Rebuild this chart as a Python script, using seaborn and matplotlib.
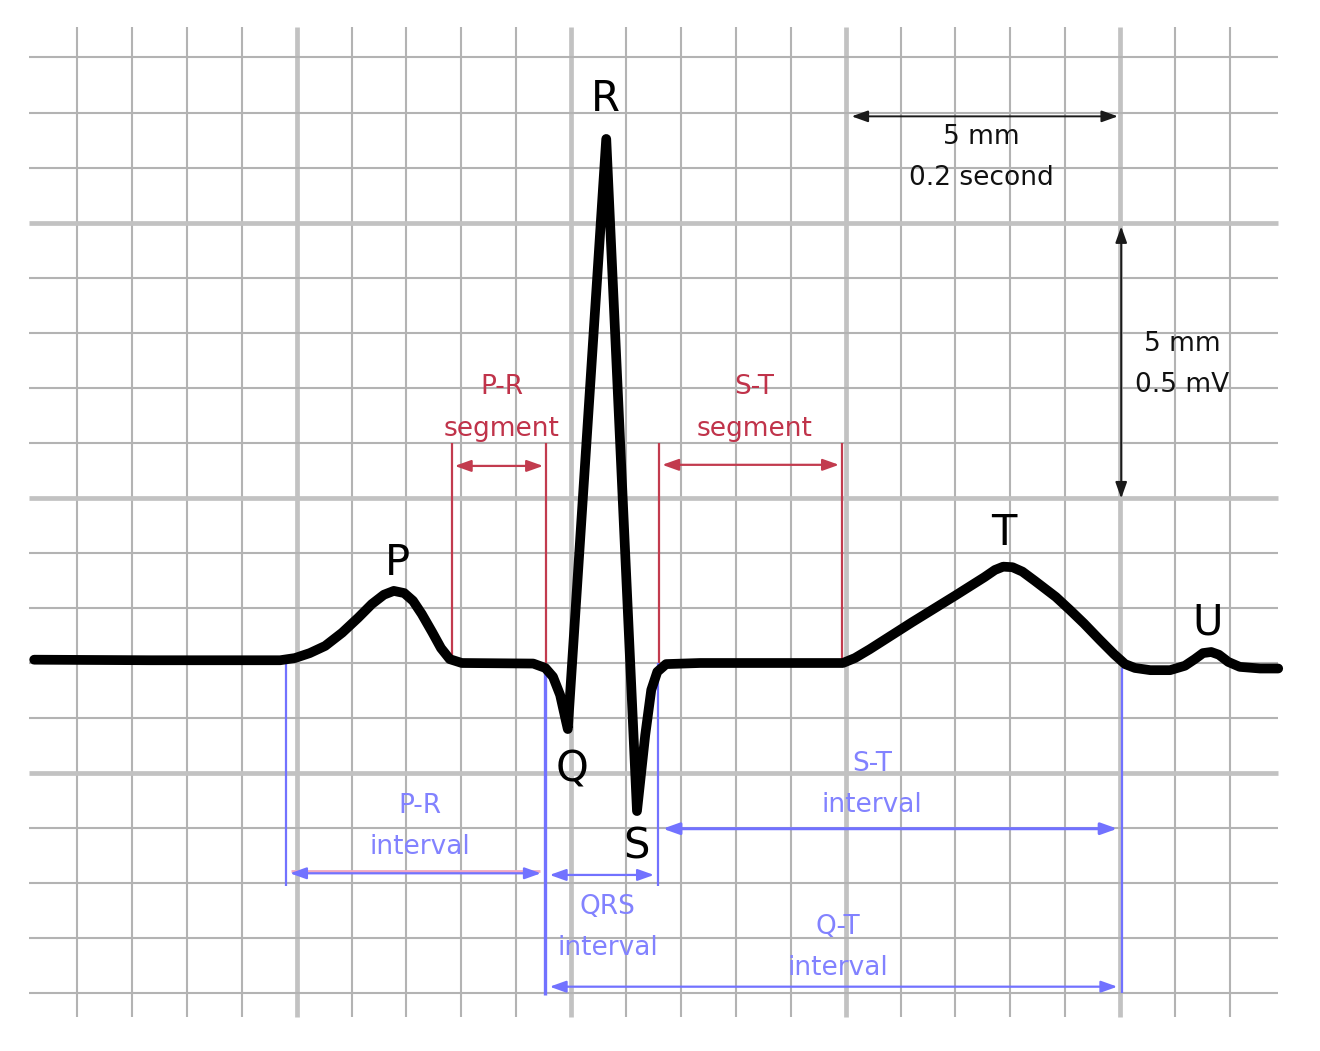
import numpy as np
import matplotlib
matplotlib.use("Agg")
import matplotlib.pyplot as plt
import seaborn as sns

# ECG trace, in small grid boxes (1 box = 1 mm = 0.04 s horizontally, 0.1 mV vertically)
trace_x = [-0.78, 1.33, 3.70, 3.97, 4.24, 4.52, 4.83, 5.12, 5.37, 5.59, 5.77, 5.96,
           6.12, 6.28, 6.47, 6.63, 6.79, 7.01, 8.31, 8.53, 8.67, 8.80, 8.91, 8.94,
           9.64, 10.20, 10.35, 10.46, 10.57, 10.73, 11.35, 13.95,
           14.17, 14.44, 15.21, 15.99, 16.53, 16.72, 16.87, 17.04,
           17.22, 17.45, 17.83, 18.09, 18.34, 18.63, 18.89, 19.09, 19.27, 19.55,
           19.91, 20.18, 20.36, 20.51, 20.66, 20.80, 20.97, 21.18, 21.55, 21.88]
trace_y = [0.06, 0.05, 0.05, 0.09, 0.18, 0.31, 0.55, 0.82, 1.07, 1.24, 1.31, 1.27,
           1.13, 0.89, 0.56, 0.27, 0.07, 0.00, -0.01, -0.09, -0.25, -0.58, -1.07, -1.20,
           9.52, -2.69, -1.31, -0.49, -0.16, -0.02, 0.00, 0.00,
           0.09, 0.25, 0.74, 1.22, 1.56, 1.69, 1.75, 1.74,
           1.66, 1.49, 1.20, 0.96, 0.72, 0.42, 0.16, -0.02, -0.09, -0.13,
           -0.13, -0.05, 0.07, 0.18, 0.20, 0.15, 0.02, -0.07, -0.10, -0.10]

# wave names and where they sit
wave_names = ["P", "Q", "R", "S", "T", "U"]
wave_x = [5.83, 9.01, 9.62, 10.19, 16.89, 20.59]
wave_y = [1.60, -2.16, 10.02, -3.56, 2.14, 0.51]

# segments (red): start, end, bracket top, arrow level, label
seg_labels = ["P-R\nsegment", "S-T\nsegment"]
seg_start = [6.83, 10.61]
seg_end = [8.54, 13.93]
seg_top = [4.0, 4.0]
seg_arrow_y = [3.58, 3.60]
seg_label_x = [7.74, 12.34]
seg_label_y = [4.12, 4.12]

# intervals (blue)
int_labels = ["P-R\ninterval", "QRS\ninterval", "S-T\ninterval", "Q-T\ninterval"]
int_start = [3.80, 8.53, 10.59, 8.53]
int_end = [8.53, 10.59, 19.03, 19.03]
int_arrow_y = [-3.82, -3.85, -3.01, -5.88]
int_label_x = [6.24, 9.67, 14.48, 13.86]
int_label_y = [-3.47, -5.30, -2.70, -5.66]

# blue drop lines: x, top, bottom
drop_x = [3.80, 8.53, 10.59, 19.03]
drop_top = [0.0, -0.04, 0.0, -0.09]
drop_bottom = [-4.05, -6.03, -4.05, -5.99]

# grid
grid_x = np.arange(0, 22)
grid_y = np.arange(-6, 12)
major_x = [4, 9, 14, 19]
major_y = [-2, 3, 8]

sns.set_theme(style="white")
plt.rcParams["font.family"] = ["DejaVu Sans"]

fig = plt.figure(figsize=(13.2, 10.51), dpi=100)
ax = fig.add_axes([0, 0, 1, 1])
ax.set_xlim(-77 / 54.9, (1320 - 77) / 54.9)
ax.set_ylim((663 - 1051) / 55.05, 663 / 55.05)
ax.axis("off")

minor_c = "#b3b3b3"
major_c = "#c2c2c2"
for gx in grid_x:
    major = gx in major_x
    ax.vlines(gx, -6.43, 11.55, color=major_c if major else minor_c,
              lw=3.4 if major else 1.5, zorder=1)
for gy in grid_y:
    major = gy in major_y
    ax.hlines(gy, -0.87, 21.88, color=major_c if major else minor_c,
              lw=3.4 if major else 1.5, zorder=1)

red = "#c23b4e"
red_txt = "#c0334a"
blue = "#7272ff"
blue_txt = "#8282ff"
fs = 19


def arrow(x0, x1, y0, y1, color, lw=1.6, scale=14):
    ax.annotate("", xy=(x1, y1), xytext=(x0, y0),
                arrowprops=dict(arrowstyle="<|-|>,head_length=0.7,head_width=0.25",
                                color=color, lw=lw, shrinkA=0, shrinkB=0,
                                mutation_scale=scale), zorder=3)


# red segments
for lab, s, e, top, ay, lx, ly in zip(seg_labels, seg_start, seg_end, seg_top,
                                      seg_arrow_y, seg_label_x, seg_label_y):
    ax.vlines([s, e], 0, top, color=red, lw=1.6, zorder=2)
    arrow(s + 0.05, e - 0.05, ay, ay, red)
    first, second = lab.split("\n")
    ax.text(lx, ly + 0.76, first, color=red_txt, fontsize=fs, ha="center",
            va="baseline", zorder=4)
    ax.text(lx, ly, second, color=red_txt, fontsize=fs, ha="center",
            va="baseline", zorder=4)

# blue drop lines
for dx, dt, db in zip(drop_x, drop_top, drop_bottom):
    ax.vlines(dx, db, dt, color=blue, lw=2.4 if dx == 8.53 else 1.6, zorder=2)

# blue intervals
for i, (lab, s, e, ay, lx, ly) in enumerate(zip(int_labels, int_start, int_end,
                                                 int_arrow_y, int_label_x, int_label_y)):
    if i == 0:
        ax.hlines(ay + 0.05, s + 0.1, e - 0.1, color="#f0a8c0", lw=2.0, zorder=2)
    arrow(s + 0.08, e - 0.08, ay, ay, blue, lw=1.6 if i != 2 else 2.2)
    first, second = lab.split("\n")
    ax.text(lx, ly + 0.74, first, color=blue_txt, fontsize=fs, ha="center",
            va="baseline", zorder=4)
    ax.text(lx, ly, second, color=blue_txt, fontsize=fs, ha="center",
            va="baseline", zorder=4)

# scale marks (black)
arrow(14.11, 18.96, 9.93, 9.93, "#1a1a1a", lw=1.4)
ax.text(16.48, 9.42, "5 mm", fontsize=fs, ha="center", va="baseline", color="#111111")
ax.text(16.48, 8.68, "0.2 second", fontsize=fs, ha="center", va="baseline", color="#111111")
arrow(19.02, 19.02, 2.99, 7.93, "#1a1a1a", lw=1.4)
ax.text(20.13, 5.66, "5 mm", fontsize=fs, ha="center", va="baseline", color="#111111")
ax.text(20.13, 4.92, "0.5 mV", fontsize=fs, ha="center", va="baseline", color="#111111")

# the trace
sns.lineplot(x=trace_x, y=trace_y, sort=False, estimator=None, color="black",
             linewidth=7, solid_capstyle="round", solid_joinstyle="round",
             ax=ax, zorder=5)

for name, wx, wy in zip(wave_names, wave_x, wave_y):
    ax.text(wx, wy, name, fontsize=30, ha="center", va="baseline", color="black",
            zorder=6)

fig.savefig("out.png", dpi=100, facecolor="white")
